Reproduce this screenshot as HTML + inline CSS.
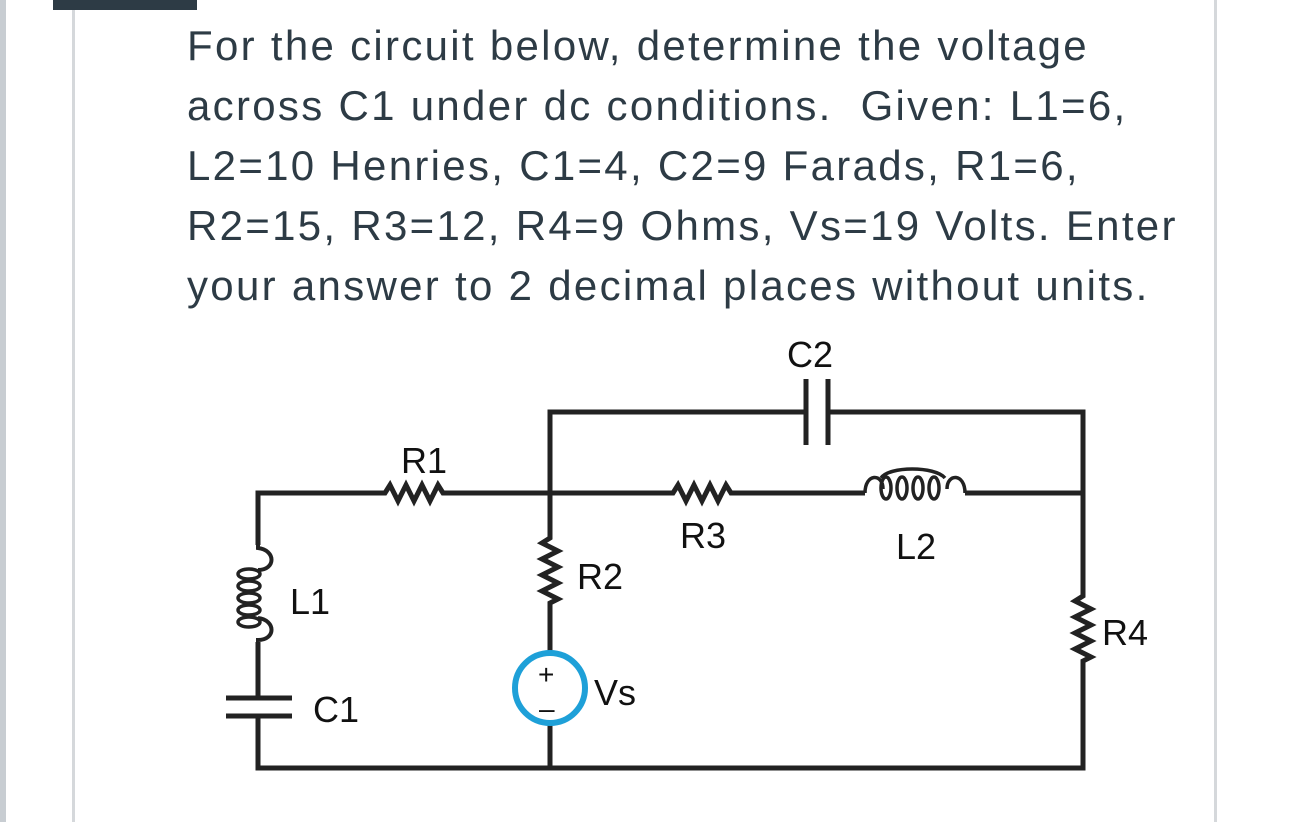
<!DOCTYPE html>
<html><head><style>
body{margin:0;width:1290px;height:822px;background:#fff;position:relative;overflow:hidden;font-family:"Liberation Sans",sans-serif}
.l{position:absolute;left:0;top:0;width:6px;height:822px;background:#c8cdd2}
.c{position:absolute;left:72px;top:0;width:3px;height:822px;background:#d5d8db}
.r{position:absolute;left:1214px;top:0;width:3px;height:822px;background:#d5d8db}
.bar{position:absolute;left:53px;top:0;width:144px;height:10px;background:#2d3b45}
.t{position:absolute;left:187px;top:16px;font-size:42px;line-height:60px;letter-spacing:2.3px;color:#2d3b45;width:1100px;white-space:nowrap}
</style></head><body>
<div class="l"></div><div class="c"></div><div class="r"></div><div class="bar"></div>
<div class="t">For the circuit below, determine the voltage<br>across C1 under dc conditions.&nbsp; Given: L1=6,<br>L2=10 Henries, C1=4, C2=9 Farads, R1=6,<br>R2=15, R3=12, R4=9 Ohms, Vs=19 Volts. Enter<br>your answer to 2 decimal places without units.</div>
<svg width="1290" height="822" style="position:absolute;left:0;top:0" font-family="Liberation Sans, sans-serif" font-size="36" fill="#111">
<g fill="none" stroke="#222" stroke-width="5">
<path d="M258 545 V493 H385 l5 -8 l8 16 l8 -16 l8 16 l8 -16 l8 16 l8 -16 l5 8 H673 l5 -8 l8 16 l8 -16 l8 16 l8 -16 l8 16 l8 -16 l5 8 H865"/>
<path d="M965 493 H1083"/>
<path d="M550 493 V412 H806 M828 412 H1083 V596 l-8 5 l16 8 l-16 8 l16 8 l-16 8 l16 8 l-16 8 l16 8 l-8 4 V768 H258 V718 M258 697 V642"/>
<path d="M550 493 V538 l-8 5 l16 8 l-16 8 l16 8 l-16 8 l16 8 l-16 8 l16 8 l-8 4 V652 M550 724 V768"/>
<path d="M258 545 V548 c18 2 18 22 0 22 M258 618 c18 2 18 22 0 22 V642" stroke-width="4"/>
</g>
<g fill="none" stroke="#222" stroke-width="3.5">
<ellipse cx="249" cy="574" rx="11" ry="5"/><ellipse cx="249" cy="586" rx="11" ry="5"/><ellipse cx="249" cy="598" rx="11" ry="5"/><ellipse cx="249" cy="610" rx="11" ry="5"/><ellipse cx="249" cy="622" rx="11" ry="5"/>
<path d="M865 493 c0 -20 18 -20 18 -4 M947 489 c0 -16 18 -16 18 4"/>
<ellipse cx="886" cy="488" rx="5" ry="11"/><ellipse cx="902" cy="488" rx="5" ry="11"/><ellipse cx="918" cy="488" rx="5" ry="11"/><ellipse cx="934" cy="488" rx="5" ry="11"/>
<path d="M881 478 c8 -12 54 -12 64 0"/>
</g>
<g stroke="#222" stroke-width="5"><path d="M806 379 V445 M828 379 V445 M226 698 H292 M226 716 H292"/></g>
<circle cx="550" cy="688" r="35" fill="none" stroke="#1ea0d8" stroke-width="6"/>
<text x="538" y="684" font-size="28">+</text><text x="539" y="718" font-size="28">–</text>
<text x="401" y="473">R1</text><text x="787" y="367">C2</text><text x="680" y="548">R3</text><text x="896" y="559">L2</text>
<text x="577" y="589">R2</text><text x="290" y="614">L1</text><text x="1102" y="645">R4</text><text x="594" y="705">Vs</text><text x="313" y="722">C1</text>
</svg>
</body></html>
